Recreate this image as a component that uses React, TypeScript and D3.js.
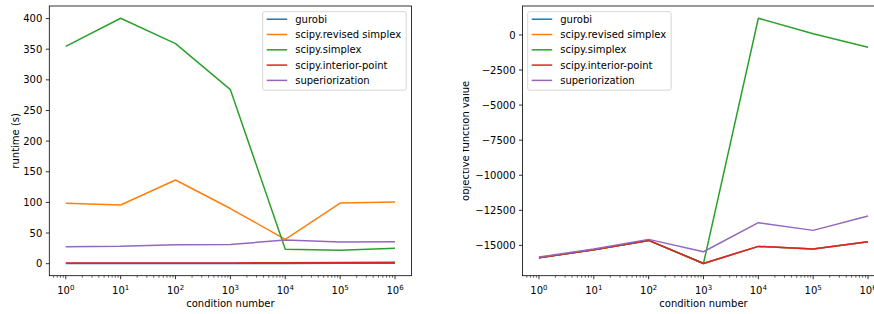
import React, { useEffect, useRef } from "react";
import * as d3 from "d3";

// condition numbers on the x axis
const conditions = [1, 10, 100, 1e3, 1e4, 1e5, 1e6];
const xTickExps = [0, 1, 2, 3, 4, 5, 6];

const methods = [
  "gurobi",
  "scipy.revised simplex",
  "scipy.simplex",
  "scipy.interior-point",
  "superiorization",
];
const colors = ["#1f77b4", "#ff7f0e", "#2ca02c", "#d62728", "#9467bd"];

// runtime (s)
const runtimeGurobi = [0.4, 0.4, 0.5, 0.5, 0.5, 0.6, 0.7];
const runtimeRevised = [98.5, 95.8, 136.5, 90, 39.8, 99, 100.5];
const runtimeSimplex = [354.5, 400.5, 359, 284, 23.5, 22, 25];
const runtimeInterior = [1.2, 1.2, 1.3, 1.3, 1.4, 1.8, 2.4];
const runtimeSuper = [27.8, 28.3, 30.8, 31.3, 38.5, 35.3, 35.8];
const runtimeTicks = [0, 50, 100, 150, 200, 250, 300, 350, 400];

// objective function value
const objGurobi = [-15879, -15310, -14643, -16286, -15071, -15262, -14738];
const objRevised = [-15879, -15310, -14643, -16286, -15071, -15262, -14738];
const objSimplex = [-15879, -15310, -14643, -16286, 1190, 80, -880];
const objInterior = [-15879, -15310, -14643, -16286, -15071, -15262, -14738];
const objSuper = [-15833, -15262, -14571, -15452, -13381, -13929, -12905];
const objTicks = [0, -2500, -5000, -7500, -10000, -12500, -15000];

const FONT = "DejaVu Sans, sans-serif";

type Panel = {
  left: number;
  right: number;
  series: number[][];
  ticks: number[];
  ylabel: string;
  ylabelX: number;
  legendX: number;
  clipX: number;
};

const panels: Panel[] = [
  {
    left: 49.3,
    right: 411.5,
    series: [runtimeGurobi, runtimeRevised, runtimeSimplex, runtimeInterior, runtimeSuper],
    ticks: runtimeTicks,
    ylabel: "runtime (s)",
    ylabelX: 19,
    legendX: 262.7,
    clipX: 0,
  },
  {
    left: 522.5,
    right: 884.5,
    series: [objGurobi, objRevised, objSimplex, objInterior, objSuper],
    ticks: objTicks,
    ylabel: "objective function value",
    ylabelX: 469,
    legendX: 527.7,
    clipX: 463,
  },
];

const TOP = 6;
const BOTTOM = 275.7;

const App = () => {
  const ref = useRef<SVGSVGElement>(null);

  useEffect(() => {
    const svg = d3.select(ref.current);
    svg.selectAll("*").remove();

    panels.forEach((p, pi) => {
      const clipId = `clip-${pi}`;
      svg
        .append("clipPath")
        .attr("id", clipId)
        .append("rect")
        .attr("x", p.clipX)
        .attr("y", 0)
        .attr("width", 874 - p.clipX)
        .attr("height", 314);

      const g = svg.append("g").attr("clip-path", `url(#${clipId})`);

      // matplotlib-like 5% margins
      const all = p.series.flat();
      const lo = d3.min(all) as number;
      const hi = d3.max(all) as number;
      const pad = (hi - lo) * 0.05;

      const x = d3
        .scaleLog()
        .domain([Math.pow(10, -0.3), Math.pow(10, 6.3)])
        .range([p.left, p.right]);
      const y = d3
        .scaleLinear()
        .domain([lo - pad, hi + pad])
        .range([BOTTOM, TOP]);

      // Lines
      const line = d3
        .line<number>()
        .x((_, i) => x(conditions[i]))
        .y((d) => y(d));

      p.series.forEach((s, i) => {
        g.append("path")
          .datum(s)
          .attr("d", line)
          .attr("fill", "none")
          .attr("stroke", colors[i])
          .attr("stroke-width", 1.5)
          .attr("stroke-linejoin", "round");
      });

      // Spines
      g.append("rect")
        .attr("x", p.left)
        .attr("y", TOP)
        .attr("width", p.right - p.left)
        .attr("height", BOTTOM - TOP)
        .attr("fill", "none")
        .attr("stroke", "#000")
        .attr("stroke-width", 0.8);

      // Y ticks
      p.ticks.forEach((t) => {
        const yy = y(t);
        g.append("line")
          .attr("x1", p.left - 3.5)
          .attr("x2", p.left)
          .attr("y1", yy)
          .attr("y2", yy)
          .attr("stroke", "#000")
          .attr("stroke-width", 0.8);
        g.append("text")
          .attr("x", p.left - 7)
          .attr("y", yy)
          .attr("dy", "0.36em")
          .attr("text-anchor", "end")
          .attr("font-family", FONT)
          .attr("font-size", 10)
          .attr("fill", "#000")
          .text(String(t).replace("-", "\u2212"));
      });

      // X minor ticks
      const [d0, d1] = x.domain();
      for (let e = -1; e <= 6; e++) {
        for (let m = 2; m <= 9; m++) {
          const v = m * Math.pow(10, e);
          if (v < d0 || v > d1) continue;
          g.append("line")
            .attr("x1", x(v))
            .attr("x2", x(v))
            .attr("y1", BOTTOM)
            .attr("y2", BOTTOM + 2)
            .attr("stroke", "#000")
            .attr("stroke-width", 0.6);
        }
      }

      // X major ticks
      xTickExps.forEach((e) => {
        const xx = x(Math.pow(10, e));
        g.append("line")
          .attr("x1", xx)
          .attr("x2", xx)
          .attr("y1", BOTTOM)
          .attr("y2", BOTTOM + 3.5)
          .attr("stroke", "#000")
          .attr("stroke-width", 0.8);
        const t = g
          .append("text")
          .attr("x", xx)
          .attr("y", 294)
          .attr("text-anchor", "middle")
          .attr("font-family", FONT)
          .attr("font-size", 10)
          .attr("fill", "#000");
        t.append("tspan").text("10");
        t.append("tspan").attr("dy", -4.5).attr("font-size", 7).text(String(e));
      });

      // Axis labels
      g.append("text")
        .attr("x", (p.left + p.right) / 2)
        .attr("y", 307)
        .attr("text-anchor", "middle")
        .attr("font-family", FONT)
        .attr("font-size", 10)
        .attr("fill", "#000")
        .text("condition number");

      g.append("text")
        .attr("transform", `translate(${p.ylabelX},${(TOP + BOTTOM) / 2}) rotate(-90)`)
        .attr("text-anchor", "middle")
        .attr("font-family", FONT)
        .attr("font-size", 10)
        .attr("fill", "#000")
        .text(p.ylabel);

      // Legend
      const lg = g.append("g").attr("transform", `translate(${p.legendX},11.7)`);
      lg.append("rect")
        .attr("width", 143.5)
        .attr("height", 78.5)
        .attr("rx", 2)
        .attr("fill", "#fff")
        .attr("fill-opacity", 0.8)
        .attr("stroke", "#ccc")
        .attr("stroke-width", 0.8);
      methods.forEach((m, i) => {
        const ly = 7.5 + i * 15.3;
        lg.append("line")
          .attr("x1", 4)
          .attr("x2", 24.5)
          .attr("y1", ly)
          .attr("y2", ly)
          .attr("stroke", colors[i])
          .attr("stroke-width", 1.5);
        lg.append("text")
          .attr("x", 32.5)
          .attr("y", ly)
          .attr("dy", "0.36em")
          .attr("font-family", FONT)
          .attr("font-size", 10)
          .attr("fill", "#000")
          .text(m);
      });
    });
  }, []);

  return (
    <svg
      ref={ref}
      width={874}
      height={314}
      style={{ position: "absolute", left: 0, top: 0, background: "#fff" }}
    ></svg>
  );
};

export default App;
